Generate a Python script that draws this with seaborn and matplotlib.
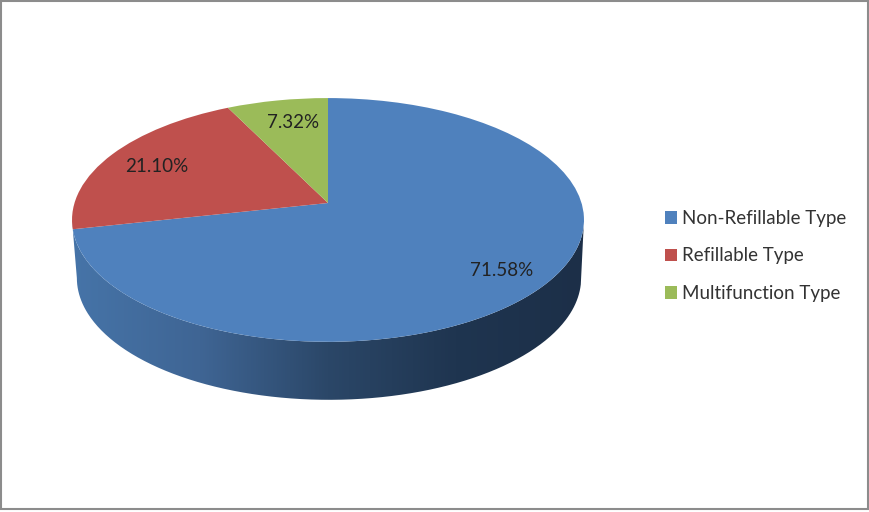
import numpy as np
import seaborn as sns
import matplotlib.pyplot as plt
from matplotlib.patches import PathPatch, Rectangle
from matplotlib.path import Path
from matplotlib.transforms import Transform

categories = ['Non-Refillable Type', 'Refillable Type', 'Multifunction Type']
shares = [71.58, 21.10, 7.32]
colors = ['#4f81bd', '#bf504d', '#9bbb59']
wall_colors = ['#4674a8', '#3f6594', '#2b4768', '#1f3550', '#1c2f48']

sns.set_theme(style='white')
plt.rcParams['font.family'] = ['Lato', 'DejaVu Sans']


# tilted disc: unit circle -> pixel coords, with perspective like the 3D pie
class TiltedPie(Transform):
    input_dims = 2
    output_dims = 2

    def transform_non_affine(self, values):
        values = np.asarray(values, dtype=float)
        w = 1 + 0.139 * values[:, 1]
        return np.column_stack([328 + 253.5 * values[:, 0] / w,
                                (203 - 91.3 * values[:, 1]) / w])


tilt = TiltedPie()

fig, ax = plt.subplots(figsize=(8.7, 5.12), dpi=100)
fig.subplots_adjust(0, 0, 1, 1)

wedges, _, pct = ax.pie(shares, colors=colors, startangle=90, counterclock=False,
                        autopct='%.2f%%', frame=False, radius=1,
                        textprops={'fontsize': 13.5, 'color': '#222222'})
for w in wedges:
    w.set_transform(tilt + ax.transData)
    w.set_linewidth(0)
    w.set_zorder(3)

# percentage labels
label_xy = [(502, 270), (157, 167), (293, 122)]
for t, xy in zip(pct, label_xy):
    t.set_position(xy)
    t.set_zorder(4)

# side wall of the pie, shaded left to right
theta = np.linspace(0, 2 * np.pi, 721)
rim = tilt.transform_non_affine(np.column_stack([np.cos(theta), np.sin(theta)]))
lower = np.sin(theta) <= -0.139
order = np.argsort(rim[lower, 0])
top_edge = rim[lower][order]
bottom_edge = top_edge.copy()
bottom_edge[:, 0] = 329 + (top_edge[:, 0] - 328) * 0.985
bottom_edge[:, 1] = top_edge[:, 1] + 58
wall_path = Path(np.vstack([top_edge, bottom_edge[::-1], top_edge[:1]]))

stops = sns.blend_palette(wall_colors, n_colors=256)
shade = np.array(stops)[np.newaxis, :, :]
img = ax.imshow(shade, extent=(72, 584, 410, 210), aspect='auto', zorder=2, interpolation='bilinear')
clip = PathPatch(wall_path, transform=ax.transData, facecolor='none', edgecolor='none')
ax.add_patch(clip)
img.set_clip_path(clip)

ax.set_aspect('auto')
ax.set_xlim(0, 870)
ax.set_ylim(512, 0)
ax.axis('off')

# outer frame of the picture
ax.add_patch(Rectangle((1, 1), 867, 508, fill=False, edgecolor='#8c8c8c', linewidth=1.5, zorder=5))

ax.legend(wedges, categories, loc='center left', bbox_to_anchor=(665 / 870, 1 - 256 / 512),
          frameon=False, fontsize=13.5, labelcolor='#333333', handlelength=0.65, handleheight=0.65,
          handletextpad=0.24, labelspacing=1.09, borderpad=0, borderaxespad=0)

fig.savefig('out.png', dpi=100)
